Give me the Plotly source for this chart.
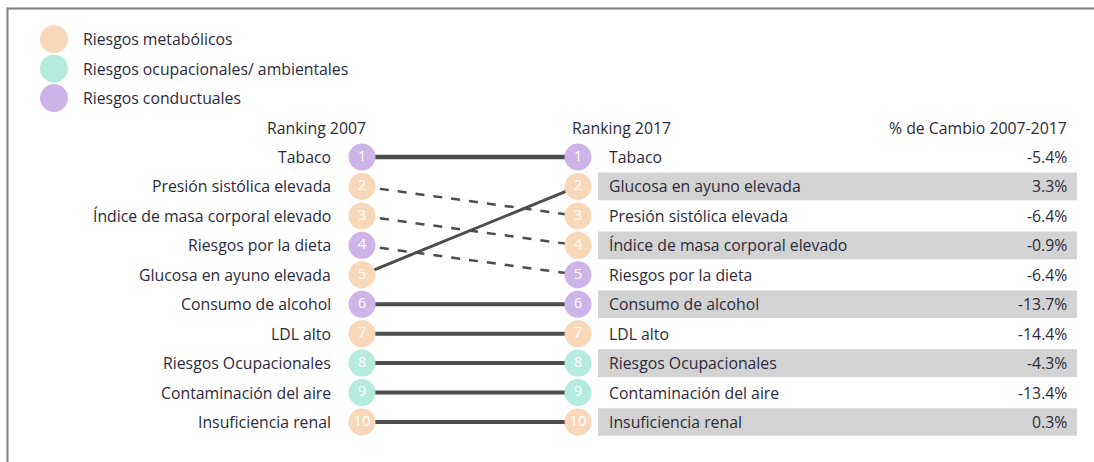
import plotly.graph_objects as go

# ---- data ----
names_2007 = ["Tabaco", "Presión sistólica elevada", "Índice de masa corporal elevado",
              "Riesgos por la dieta", "Glucosa en ayuno elevada", "Consumo de alcohol",
              "LDL alto", "Riesgos Ocupacionales", "Contaminación del aire", "Insuficiencia renal"]
category = ["cond", "met", "met", "cond", "met", "cond", "met", "ocu", "ocu", "met"]
rank_2007 = [1, 2, 3, 4, 5, 6, 7, 8, 9, 10]
rank_2017 = [1, 3, 4, 5, 2, 6, 7, 8, 9, 10]
pct_change = [-5.4, -6.4, -0.9, -6.4, 3.3, -13.7, -14.4, -4.3, -13.4, 0.3]

legend_labels = ["Riesgos metabólicos", "Riesgos ocupacionales/ ambientales", "Riesgos conductuales"]
legend_keys = ["met", "ocu", "cond"]
legend_rows = [-3, -2, -1]
colors = {"met": "#f8d8b8", "ocu": "#b4ebdc", "cond": "#cfb4ea"}

header_2007 = "Ranking 2007"
header_2017 = "Ranking 2017"
header_pct = "% de Cambio 2007-2017"

# ---- layout constants (pixels on x) ----
X_LEFT, X_RIGHT = 362, 578
X_LBL_L, X_LBL_R, X_PCT = 333, 607, 1069
FONT = "Open Sans"
TXT = "#2b2b3b"
FS = 15.8

fig = go.Figure()

# connecting lines
for r0, r1 in zip(rank_2007, rank_2017):
    if r0 == r1:
        style = dict(color="#4d4d4d", width=4.5 if r0 == 1 else 4)
    elif r1 < r0:
        style = dict(color="#4d4d4d", width=3)
    else:
        style = dict(color="#4d4d4d", width=2.5, dash="dash")
    fig.add_trace(go.Scatter(x=[X_LEFT, X_RIGHT], y=[r0, r1], mode="lines",
                             line=style, hoverinfo="skip", showlegend=False))

# circles left and right
cols = [colors[c] for c in category]
for xs, rs in ((X_LEFT, rank_2007), (X_RIGHT, rank_2017)):
    fig.add_trace(go.Scatter(x=[xs] * len(rs), y=rs, mode="markers+text",
                             marker=dict(size=27, color=cols, line=dict(width=0)),
                             text=[str(r) for r in rs], textposition="middle center",
                             textfont=dict(color="white", size=15, family=FONT),
                             showlegend=False, hoverinfo="skip"))

# legend circles
fig.add_trace(go.Scatter(x=[54] * 3, y=legend_rows, mode="markers",
                         marker=dict(size=28, color=[colors[k] for k in legend_keys]),
                         showlegend=False, hoverinfo="skip"))

def txt(x, y, s, anchor):
    return dict(x=x, y=y, text=s, xanchor=anchor, yanchor="middle", showarrow=False,
                font=dict(size=FS, color=TXT, family=FONT))

ann = []
for lbl, r in zip(legend_labels, legend_rows):
    ann.append(txt(81, r, lbl, "left"))
for n, r in zip(names_2007, rank_2007):
    ann.append(txt(X_LBL_L, r, n, "right"))
shapes = []
for n, r, p in zip(names_2007, rank_2017, pct_change):
    if r % 2 == 0:
        shapes.append(dict(type="rect", xref="x", yref="y", x0=598, x1=1077,
                           y0=r - 0.47, y1=r + 0.47, fillcolor="#d3d3d3",
                           line=dict(width=0), layer="below"))
    ann.append(txt(X_LBL_R, r, n, "left"))
    ann.append(txt(X_PCT, r, f"{p:.1f}%", "right"))

ann.append(txt(316, 0, header_2007, "center"))
ann.append(txt(570, 0, header_2017, "left"))
ann.append(txt(X_PCT, 0, header_pct, "right"))

# frame
shapes.append(dict(type="line", xref="paper", yref="paper", x0=7 / 1094, x1=1, y0=1 - 8.5 / 462,
                   y1=1 - 8.5 / 462, line=dict(color="#808080", width=2)))
shapes.append(dict(type="line", xref="paper", yref="paper", x0=7.5 / 1094, x1=7.5 / 1094,
                   y0=0, y1=1 - 7.5 / 462, line=dict(color="#808080", width=2)))

px_per_rank = (422 - 157) / 9
y_top = 1 - 157 / px_per_rank
y_bot = 1 + (462 - 157) / px_per_rank

fig.update_layout(
    width=1094, height=462, margin=dict(l=0, r=0, t=0, b=0),
    paper_bgcolor="white", plot_bgcolor="white",
    xaxis=dict(range=[0, 1094], visible=False, fixedrange=True),
    yaxis=dict(range=[y_bot, y_top], visible=False, fixedrange=True),
    annotations=ann, shapes=shapes, showlegend=False,
)
fig.write_html("out.html", config={"displayModeBar": False},
               post_script="document.body.style.margin='0px';document.body.style.overflow='hidden';")
